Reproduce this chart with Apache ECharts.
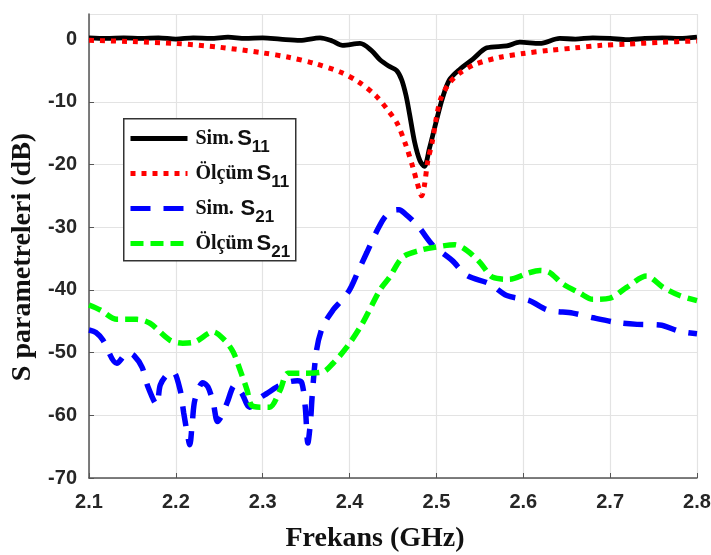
<!DOCTYPE html>
<html>
<head>
<meta charset="utf-8">
<script src="https://cdn.jsdelivr.net/npm/echarts@6/dist/echarts.min.js"></script>
<style>
  html, body { margin: 0; padding: 0; background: #fff; }
  #chart { width: 711px; height: 555px; }
</style>
</head>
<body>
<div id="chart"></div>
<script>
var myChart = echarts.init(document.getElementById('chart'));

// Sim. S11 (siyah)
var simS11F = [2.1, 2.12, 2.14, 2.16, 2.18, 2.2, 2.22, 2.24, 2.26, 2.28, 2.3, 2.32, 2.343, 2.366, 2.38, 2.392, 2.412, 2.425, 2.435, 2.445, 2.454, 2.46, 2.465, 2.469, 2.475, 2.481, 2.486, 2.492, 2.5, 2.507, 2.515, 2.527, 2.542, 2.558, 2.581, 2.596, 2.619, 2.642, 2.66, 2.68, 2.7, 2.72, 2.74, 2.76, 2.78, 2.8];
var simS11 = [0.2, 0.1, 0.2, 0.1, 0.2, 0, 0.2, 0.1, 0.3, 0.1, 0.2, 0, -0.2, 0.2, -0.3, -1.0, -0.7, -1.8, -3.3, -4.3, -5.0, -6.5, -9.0, -11.9, -16.5, -19.4, -20.3, -17.4, -13.0, -9.4, -6.5, -4.8, -3.2, -1.4, -1.1, -0.5, -0.7, 0.1, 0, 0.2, 0.1, -0.1, 0.1, 0.2, 0.1, 0.3];

// Ölçüm S11 (kırmızı)
var olcS11F = [2.1, 2.15, 2.2, 2.25, 2.3, 2.33, 2.36, 2.39, 2.41, 2.43, 2.445, 2.455, 2.465, 2.473, 2.478, 2.483, 2.486, 2.49, 2.495, 2.5, 2.505, 2.515, 2.527, 2.545, 2.573, 2.6, 2.63, 2.66, 2.69, 2.72, 2.76, 2.8];
var olcS11 = [-0.2, -0.4, -0.7, -1.3, -2.2, -2.9, -3.9, -5.3, -6.8, -9.0, -11.5, -13.5, -17.0, -20.5, -23.0, -25.0, -23.5, -19.5, -16.5, -12.5, -9.5, -7.0, -5.4, -4.0, -2.9, -2.3, -1.8, -1.4, -1.0, -0.8, -0.5, -0.3];

// Sim. S21 (mavi)
var simS21F = [2.1, 2.108, 2.116, 2.132, 2.145, 2.152, 2.161, 2.168, 2.178, 2.182, 2.19, 2.197, 2.205, 2.209, 2.213, 2.216, 2.219, 2.222, 2.231, 2.237, 2.243, 2.248, 2.253, 2.259, 2.268, 2.276, 2.285, 2.297, 2.305, 2.316, 2.329, 2.34, 2.345, 2.349, 2.352, 2.355, 2.357, 2.362, 2.369, 2.381, 2.39, 2.4, 2.41, 2.42, 2.43, 2.44, 2.45, 2.457, 2.465, 2.473, 2.481, 2.496, 2.518, 2.535, 2.561, 2.581, 2.607, 2.628, 2.657, 2.679, 2.708, 2.731, 2.757, 2.78, 2.8];
var simS21 = [-46.4, -46.8, -48.0, -51.7, -50.0, -50.5, -52.3, -55.5, -58.3, -55.2, -53.5, -53.1, -56.0, -59.6, -62.8, -64.7, -61.0, -57.5, -54.8, -55.5, -58.0, -61.0, -60.0, -58.0, -55.2, -56.5, -58.7, -57.2, -56.5, -55.5, -54.7, -54.5, -54.8, -58.7, -64.4, -61.0, -56.8, -49.6, -45.9, -43.2, -41.8, -40.0, -37.0, -34.0, -31.0, -28.5, -27.3, -27.2, -28.0, -29.0, -30.2, -32.9, -35.3, -37.7, -39.0, -40.9, -41.7, -43.2, -43.7, -44.4, -45.2, -45.5, -45.6, -46.6, -47.0];

// Ölçüm S21 (yeşil)
var olcS21F = [2.1, 2.113, 2.132, 2.155, 2.17, 2.193, 2.208, 2.222, 2.243, 2.256, 2.266, 2.274, 2.282, 2.287, 2.297, 2.308, 2.32, 2.329, 2.343, 2.369, 2.381, 2.397, 2.415, 2.435, 2.446, 2.461, 2.481, 2.498, 2.521, 2.535, 2.55, 2.565, 2.584, 2.604, 2.619, 2.63, 2.645, 2.665, 2.68, 2.7, 2.719, 2.742, 2.761, 2.78, 2.8];
var olcS21 = [-42.4, -43.2, -44.7, -44.7, -45.3, -48.0, -48.5, -48.3, -46.7, -48.0, -49.9, -52.8, -56.0, -58.4, -58.7, -58.7, -56.0, -53.3, -53.3, -53.1, -51.7, -49.1, -45.3, -40.0, -38.0, -34.8, -33.7, -33.2, -32.8, -33.7, -35.6, -38.0, -38.3, -37.4, -36.9, -37.2, -39.0, -40.5, -41.5, -41.3, -39.6, -37.8, -39.6, -40.9, -41.7];

var seriesNames = ['Sim. S11', 'Ölçüm S11', 'Sim.  S21', 'Ölçüm S21'];
var legendText = {
	'Sim. S11': '{t|Sim.} {s|S}{sub|11}',
	'Ölçüm S11': '{t|Ölçüm} {s|S}{sub|11}',
	'Sim.  S21': '{t|Sim.}  {s|S}{sub|21}',
	'Ölçüm S21': '{t|Ölçüm} {s|S}{sub|21}'
};

function pairs(xs, ys) {
	return xs.map(function (x, i) { return [x, ys[i]]; });
}

var serif = '"Liberation Serif", "Times New Roman", serif';
var sans = '"Liberation Sans", Arial, sans-serif';

myChart.setOption({
	animation: false,
	grid: {
		left: 89,
		right: 14,
		top: 14,
		bottom: 77,
		outerBoundsMode: 'none'
	},
	// lejant çerçevesi
	graphic: [{
		type: 'rect',
		left: 123,
		top: 118,
		z: 10,
		shape: { width: 172, height: 142 },
		style: { fill: '#fff', stroke: '#333', lineWidth: 1.5 }
	}],
	legend: {
		data: seriesNames,
		orient: 'vertical',
		left: 123,
		top: 118,
		z: 11,
		itemWidth: 57,
		itemHeight: 10,
		itemGap: 6.5,
		padding: [9.5, 0, 0, 5],
		itemStyle: { opacity: 0 },
		lineStyle: { width: 5 },
		formatter: function (name) { return legendText[name]; },
		textStyle: {
			rich: {
				t: { fontFamily: serif, fontWeight: 'bold', fontSize: 20, color: '#111', lineHeight: 26, verticalAlign: 'middle', padding: [0, 0, 0, 3] },
				s: { fontFamily: sans, fontWeight: 'bold', fontSize: 22, color: '#111', lineHeight: 26, verticalAlign: 'middle' },
				sub: { fontFamily: sans, fontWeight: 'bold', fontSize: 17, color: '#111', verticalAlign: 'middle', padding: [18, 0, 0, 0] }
			}
		}
	},
	xAxis: {
		type: 'value',
		min: 2.1,
		max: 2.8,
		interval: 0.1,
		name: 'Frekans (GHz)',
		nameLocation: 'middle',
		nameGap: 47,
		nameTextStyle: { fontFamily: serif, fontWeight: 'bold', fontSize: 28, color: '#111', padding: [0, 36, 0, 0] },
		axisLine: { onZero: false, lineStyle: { color: '#555', width: 1.5 } },
		axisTick: { inside: true, length: 5, lineStyle: { color: '#555' } },
		axisLabel: {
			margin: 14,
			fontFamily: sans, fontWeight: 'bold', fontSize: 20, color: '#262626',
			formatter: function (v) { return v.toFixed(1); }
		},
		splitLine: { show: true, lineStyle: { color: '#e3e3e3', width: 1.2 } }
	},
	yAxis: {
		type: 'value',
		min: -70,
		max: 4,
		interval: 10,
		name: 'S parametreleri (dB)',
		nameLocation: 'middle',
		nameGap: 43,
		nameTextStyle: { fontFamily: serif, fontWeight: 'bold', fontSize: 28, color: '#111', padding: [0, 22, 0, 0] },
		axisLine: { show: true, onZero: false, lineStyle: { color: '#555', width: 1.5 } },
		axisTick: { show: true, inside: true, length: 5, lineStyle: { color: '#555' } },
		axisLabel: {
			margin: 12, showMaxLabel: false,
			fontFamily: sans, fontWeight: 'bold', fontSize: 20, color: '#262626'
		},
		splitLine: { show: true, lineStyle: { color: '#e3e3e3', width: 1.2 } }
	},
	series: [
		{
			name: seriesNames[0], type: 'line', symbol: 'none', smooth: 0.3, z: 4,
			data: pairs(simS11F, simS11),
			lineStyle: { color: '#000', width: 4.8 },
			itemStyle: { color: '#000' }
		},
		{
			name: seriesNames[1], type: 'line', symbol: 'none', smooth: 0.3, z: 5,
			data: pairs(olcS11F, olcS11),
			lineStyle: { color: '#ff0000', width: 5, type: [5, 6] },
			itemStyle: { color: '#ff0000' }
		},
		{
			name: seriesNames[2], type: 'line', symbol: 'none', smooth: 0.3, z: 3,
			data: pairs(simS21F, simS21),
			lineStyle: { color: '#0000ff', width: 5.5, type: [20, 13] },
			itemStyle: { color: '#0000ff' }
		},
		{
			name: seriesNames[3], type: 'line', symbol: 'none', smooth: 0.3, z: 3,
			data: pairs(olcS21F, olcS21),
			lineStyle: { color: '#00ff00', width: 5.5, type: [13, 7] },
			itemStyle: { color: '#00ff00' }
		}
	]
});

window.addEventListener('resize', function () {
	myChart.resize();
});
</script>
</body>
</html>
